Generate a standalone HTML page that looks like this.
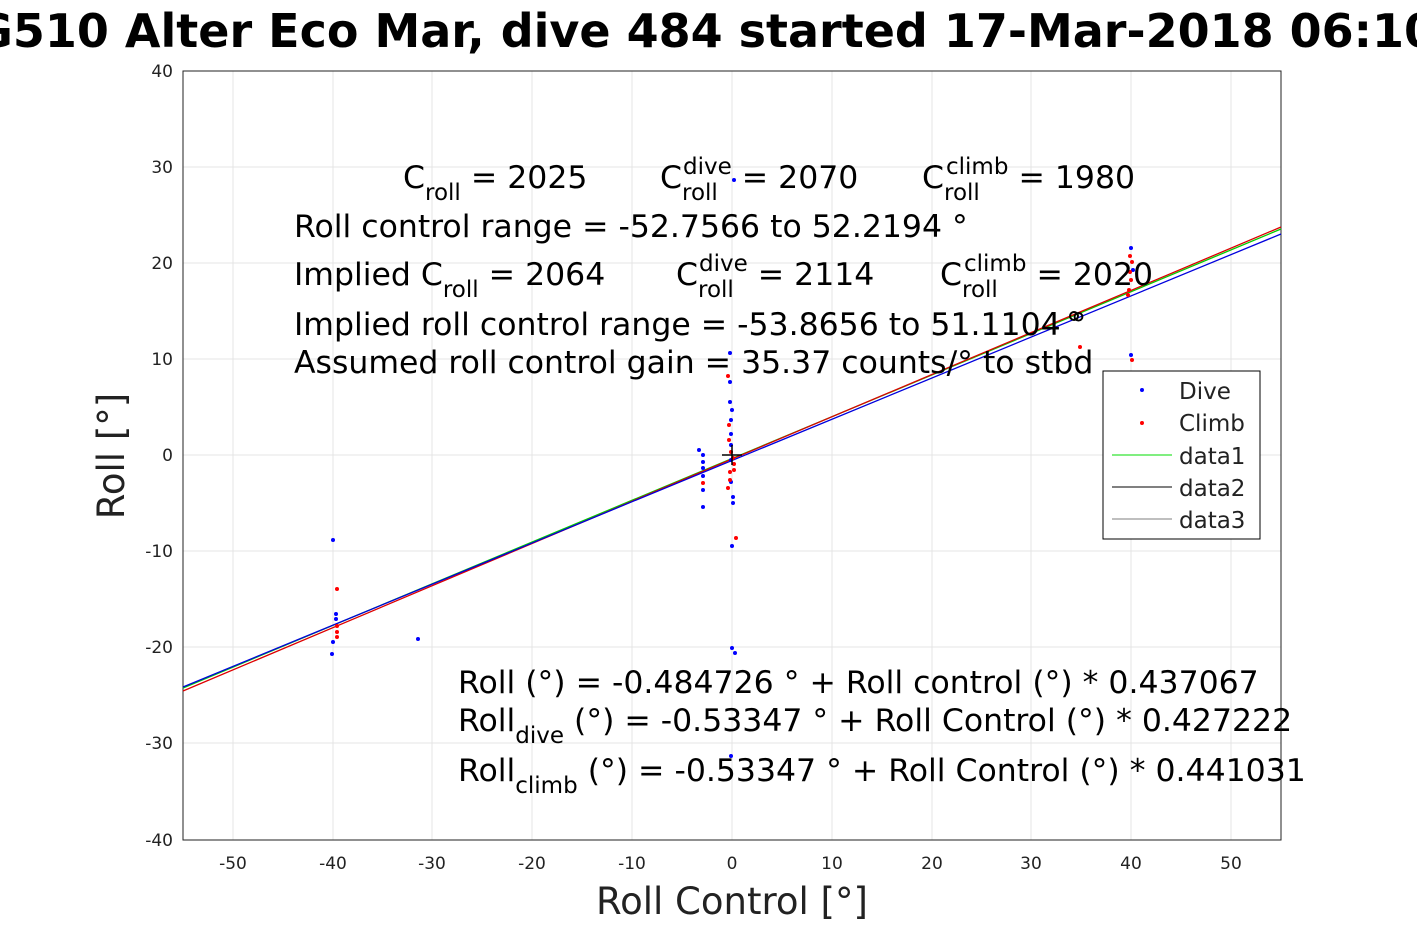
<!DOCTYPE html>
<html><head><meta charset="utf-8"><style>
body{margin:0;background:#fff;overflow:hidden}
svg{font-family:"DejaVu Sans","Liberation Sans",sans-serif}
</style></head><body>
<svg width="1417" height="945" viewBox="0 0 1417 945" xmlns="http://www.w3.org/2000/svg">
<rect width="1417" height="945" fill="#fff"/>
<text x="-58" y="47" font-size="46" font-weight="bold">SG510 Alter Eco Mar, dive 484 started 17-Mar-2018 06:10</text>
<rect x="183" y="71" width="1098" height="769" fill="#fff"/>
<g stroke="#e4e4e4" stroke-width="1">
<line x1="233" y1="71" x2="233" y2="840"/><line x1="333" y1="71" x2="333" y2="840"/><line x1="432" y1="71" x2="432" y2="840"/><line x1="532" y1="71" x2="532" y2="840"/><line x1="632" y1="71" x2="632" y2="840"/><line x1="732" y1="71" x2="732" y2="840"/><line x1="832" y1="71" x2="832" y2="840"/><line x1="932" y1="71" x2="932" y2="840"/><line x1="1031" y1="71" x2="1031" y2="840"/><line x1="1131" y1="71" x2="1131" y2="840"/><line x1="1231" y1="71" x2="1231" y2="840"/>
<line x1="183" y1="167" x2="1281" y2="167"/><line x1="183" y1="263" x2="1281" y2="263"/><line x1="183" y1="359" x2="1281" y2="359"/><line x1="183" y1="455" x2="1281" y2="455"/><line x1="183" y1="551" x2="1281" y2="551"/><line x1="183" y1="647" x2="1281" y2="647"/><line x1="183" y1="743" x2="1281" y2="743"/>
</g>
<rect x="183" y="71" width="1098" height="769" fill="none" stroke="#222" stroke-width="1"/>
<g font-size="17" fill="#222" text-anchor="middle">
<text x="233" y="869">-50</text><text x="333" y="869">-40</text><text x="432" y="869">-30</text><text x="532" y="869">-20</text><text x="632" y="869">-10</text><text x="732" y="869">0</text><text x="832" y="869">10</text><text x="932" y="869">20</text><text x="1031" y="869">30</text><text x="1131" y="869">40</text><text x="1231" y="869">50</text>
</g>
<g font-size="17" fill="#222" text-anchor="end">
<text x="173" y="77">40</text><text x="173" y="173">30</text><text x="173" y="269">20</text><text x="173" y="365">10</text><text x="173" y="461">0</text><text x="173" y="557">-10</text><text x="173" y="653">-20</text><text x="173" y="749">-30</text><text x="173" y="846">-40</text>
</g>
<text x="732" y="914" font-size="37" text-anchor="middle" fill="#222">Roll Control [°]</text>
<text transform="translate(124,456) rotate(-90)" font-size="37" text-anchor="middle" fill="#222">Roll [°]</text>
<line x1="183" y1="688" x2="1281" y2="229" stroke="#0c0" stroke-width="1.3"/>
<line x1="183" y1="691" x2="1281" y2="227" stroke="#d00" stroke-width="1.3"/>
<line x1="183" y1="687" x2="1281" y2="234" stroke="#00d" stroke-width="1.3"/>
<g fill="#00f">
<circle cx="333" cy="540" r="2"/><circle cx="336" cy="614" r="2"/><circle cx="336" cy="619" r="2"/><circle cx="333" cy="642" r="2"/><circle cx="332" cy="654" r="2"/><circle cx="418" cy="639" r="2"/>
<circle cx="699" cy="450" r="2"/><circle cx="703" cy="455" r="2"/><circle cx="703" cy="462" r="2"/><circle cx="703" cy="468" r="2"/><circle cx="703" cy="476" r="2"/><circle cx="703" cy="490" r="2"/><circle cx="703" cy="507" r="2"/>
<circle cx="734" cy="180" r="2"/><circle cx="730" cy="353" r="2"/><circle cx="730" cy="382" r="2"/><circle cx="730" cy="402" r="2"/><circle cx="732" cy="410" r="2"/><circle cx="731" cy="420" r="2"/><circle cx="731" cy="434" r="2"/><circle cx="731" cy="445" r="2"/><circle cx="731" cy="460" r="2"/><circle cx="731" cy="482" r="2"/><circle cx="733" cy="497" r="2"/><circle cx="733" cy="503" r="2"/><circle cx="732" cy="546" r="2"/><circle cx="732" cy="648" r="2"/><circle cx="735" cy="653" r="2"/><circle cx="731" cy="756" r="2"/>
<circle cx="1131" cy="248" r="2"/><circle cx="1131" cy="355" r="2"/><circle cx="1133" cy="270" r="2"/>
</g>
<g fill="#f00">
<circle cx="337" cy="589" r="2"/><circle cx="337" cy="626" r="2"/><circle cx="337" cy="632" r="2"/><circle cx="337" cy="637" r="2"/>
<circle cx="703" cy="483" r="2"/><circle cx="728" cy="376" r="2"/><circle cx="729" cy="425" r="2"/><circle cx="729" cy="440" r="2"/><circle cx="731" cy="452" r="2"/><circle cx="733" cy="458" r="2"/><circle cx="734" cy="464" r="2"/><circle cx="730" cy="472" r="2"/><circle cx="734" cy="470" r="2"/><circle cx="730" cy="480" r="2"/><circle cx="728" cy="488" r="2"/><circle cx="736" cy="538" r="2"/>
<circle cx="1130" cy="256" r="2"/><circle cx="1132" cy="262" r="2"/><circle cx="1130" cy="272" r="2"/><circle cx="1131" cy="280" r="2"/><circle cx="1129" cy="290" r="2"/><circle cx="1128" cy="295" r="2"/><circle cx="1080" cy="347" r="2"/><circle cx="1132" cy="360" r="2"/>
</g>
<path d="M722 455 h20 M732 445 v20" stroke="#000" stroke-width="1.5"/>
<circle cx="1074" cy="316" r="4" fill="none" stroke="#000" stroke-width="2"/>
<g font-size="31.5" fill="#000">
<text x="403" y="188">C<tspan font-size="23" dy="12">roll</tspan><tspan dy="-12"> = 2025</tspan></text>
<text x="660" y="188">C<tspan font-size="23" dy="12">roll</tspan><tspan font-size="23" x="683" dy="-26">dive</tspan><tspan dy="14"> = 2070</tspan></text>
<text x="922" y="188">C<tspan font-size="23" dy="12">roll</tspan><tspan font-size="23" x="946" dy="-26">climb</tspan><tspan dy="14"> = 1980</tspan></text>
<text x="294" y="237">Roll control range = -52.7566 to 52.2194 °</text>
<text x="294" y="285">Implied C<tspan font-size="23" dy="12">roll</tspan><tspan dy="-12"> = 2064</tspan></text>
<text x="676" y="285">C<tspan font-size="23" dy="12">roll</tspan><tspan font-size="23" x="699" dy="-26">dive</tspan><tspan dy="14"> = 2114</tspan></text>
<text x="940" y="285">C<tspan font-size="23" dy="12">roll</tspan><tspan font-size="23" x="964" dy="-26">climb</tspan><tspan dy="14"> = 2020</tspan></text>
<text x="294" y="335">Implied roll control range = -53.8656 to 51.1104 °</text>
<text x="294" y="373">Assumed roll control gain = 35.37 counts/° to stbd</text>
<text x="458" y="693">Roll (°) = -0.484726 ° + Roll control (°) * 0.437067</text>
<text x="458" y="731">Roll<tspan font-size="23" dy="12">dive</tspan><tspan dy="-12"> (°) = -0.53347 ° + Roll Control (°) * 0.427222</tspan></text>
<text x="458" y="781">Roll<tspan font-size="23" dy="12">climb</tspan><tspan dy="-12"> (°) = -0.53347 ° + Roll Control (°) * 0.441031</tspan></text>
</g>
<rect x="1103" y="371" width="157" height="168" fill="#fff" stroke="#000" stroke-width="1"/>
<g font-size="23" fill="#222">
<circle cx="1142" cy="390" r="2" fill="#00f"/><text x="1179" y="399">Dive</text>
<circle cx="1142" cy="423" r="2" fill="#f00"/><text x="1179" y="431">Climb</text>
<line x1="1112" y1="455" x2="1172" y2="455" stroke="#0d0"/><text x="1179" y="464">data1</text>
<line x1="1112" y1="487" x2="1172" y2="487" stroke="#000"/><text x="1179" y="496">data2</text>
<line x1="1112" y1="519" x2="1172" y2="519" stroke="#000" stroke-width="0.6"/><text x="1179" y="528">data3</text>
</g>
</svg>
</body></html>
